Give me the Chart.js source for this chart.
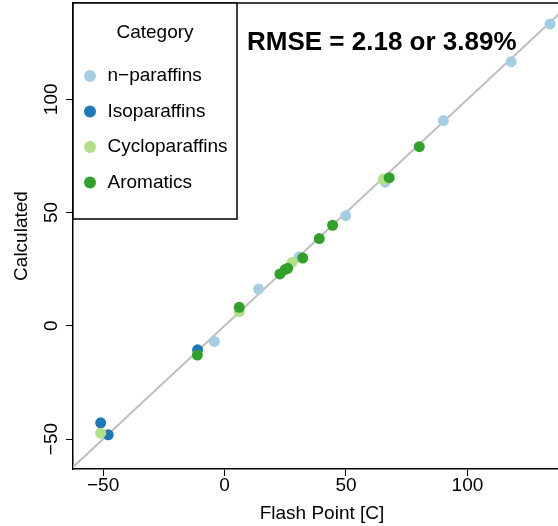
<!DOCTYPE html>
<html>
<head>
<meta charset="utf-8">
<script src="https://cdn.jsdelivr.net/npm/chart.js@4.4.0/dist/chart.umd.min.js"></script>
<style>
html, body { margin: 0; padding: 0; background: #fff; }
#wrap { width: 558px; height: 526px; }
</style>
</head>
<body>
<div id="wrap"><canvas id="flashChart" width="558" height="526"></canvas></div>
<script>
// categories and colours (RColorBrewer "Paired")
const categories = ['n\u2212paraffins', 'Isoparaffins', 'Cycloparaffins', 'Aromatics'];
const colors = ['#A6CEE3', '#1F78B4', '#B2DF8A', '#33A02C'];

// measured flash point (x) vs calculated (y)
const nParX = [-4.2, 14.0, 30.8, 49.9, 66.1, 90.1, 118.0, 134.0];
const nParY = [-6.9, 16.2, 30.5, 48.6, 63.4, 90.6, 116.6, 133.2];
const isoX = [-51.0, -47.9, -11.1];
const isoY = [-42.8, -48.1, -10.6];
const cycloX = [-51.0, 6.1, 27.9, 65.4];
const cycloY = [-47.4, 6.3, 28.1, 64.8];
const aromX = [-11.2, 6.05, 22.8, 25.0, 26.0, 32.2, 39.0, 44.5, 67.8, 80.2];
const aromY = [-12.9, 8.2, 22.9, 24.9, 25.4, 29.9, 38.5, 44.4, 65.4, 79.1];

// y = x reference line ends
const diagEnds = [-70, 160];

// axis ticks
const xTicks = [-50, 0, 50, 100];
const yTicks = [-50, 0, 50, 100];

const xTitle = 'Flash Point [C]';
const rmseText = 'RMSE = 2.18 or 3.89%';
const FONT = '"Liberation Sans", Arial, Helvetica, sans-serif';

const toPoints = (xs, ys) => xs.map((x, i) => ({ x: x, y: ys[i] }));
const minus = v => String(v).replace('-', '\u2212');

const seriesX = [nParX, isoX, cycloX, aromX];
const seriesY = [nParY, isoY, cycloY, aromY];

const datasets = categories.map((name, i) => ({
    label: name,
    data: toPoints(seriesX[i], seriesY[i]),
    backgroundColor: colors[i],
    borderWidth: 0,
    pointRadius: 5.5,
    pointHoverRadius: 5.5,
    order: 4 - i // aromatics on top
}));
datasets.push({
    label: 'diag',
    data: diagEnds.map(v => ({ x: v, y: v })),
    showLine: true,
    borderColor: '#BEBEBE',
    borderWidth: 2,
    pointRadius: 0,
    order: 10
});

// legend box, RMSE label, top frame line, x title and rotated y tick labels
const decorations = {
    id: 'decorations',
    afterDraw(chart) {
        const { ctx, chartArea } = chart;
        const yScale = chart.scales.y;
        ctx.save();

        // top frame line
        ctx.strokeStyle = '#000';
        ctx.lineWidth = 1.5;
        ctx.beginPath();
        ctx.moveTo(chartArea.left, chartArea.top);
        ctx.lineTo(chart.width, chartArea.top);
        ctx.stroke();

        // y tick labels, R style (reading upwards)
        ctx.fillStyle = '#000';
        ctx.font = '19px ' + FONT;
        ctx.textAlign = 'center';
        ctx.textBaseline = 'alphabetic';
        yTicks.forEach(v => {
            const py = yScale.getPixelForValue(v);
            ctx.save();
            ctx.translate(56.5, py);
            ctx.rotate(-Math.PI / 2);
            ctx.fillText(minus(v), 0, 0);
            ctx.restore();
        });

        // x axis title (original plot region runs past the right edge)
        ctx.fillText(xTitle, 322, 519);

        // legend
        const bx = chartArea.left, by = chartArea.top;
        const bw = 164, bh = 216;
        ctx.fillStyle = '#fff';
        ctx.fillRect(bx, by, bw, bh);
        ctx.strokeRect(bx, by, bw, bh);
        ctx.fillStyle = '#000';
        ctx.textBaseline = 'middle';
        ctx.textAlign = 'center';
        ctx.fillText('Category', bx + 82, 33);
        ctx.textAlign = 'left';
        categories.forEach((name, i) => {
            const cy = 76 + i * 35.5;
            ctx.fillStyle = colors[i];
            ctx.beginPath();
            ctx.arc(bx + 17, cy, 6, 0, Math.PI * 2);
            ctx.fill();
            ctx.fillStyle = '#000';
            ctx.fillText(name, bx + 34.5, cy);
        });

        // RMSE annotation
        ctx.font = 'bold 26px ' + FONT;
        ctx.textBaseline = 'alphabetic';
        ctx.fillText(rmseText, 247, 50);

        ctx.restore();
    }
};

Chart.defaults.font.family = FONT;
Chart.defaults.font.size = 19;
Chart.defaults.color = '#000';

const ctx = document.getElementById('flashChart').getContext('2d');
const flashChart = new Chart(ctx, {
    type: 'scatter',
    data: { datasets: datasets },
    options: {
        responsive: false,
        animation: false,
        layout: { autoPadding: false, padding: { top: 3, right: 0, left: 0, bottom: 0 } },
        plugins: {
            legend: { display: false },
            tooltip: { enabled: false }
        },
        scales: {
            x: {
                type: 'linear',
                min: -62.4,
                max: 137.3,
                afterFit: s => { s.height = 57; s.paddingLeft = 0; s.paddingRight = 0; },
                afterBuildTicks: s => { s.ticks = xTicks.map(v => ({ value: v })); },
                ticks: {
                    includeBounds: false,
                    maxRotation: 0,
                    padding: 0.5,
                    font: { size: 19, lineHeight: 1 },
                    callback: v => minus(v)
                },
                grid: { drawOnChartArea: false, drawTicks: true, tickLength: 7, color: '#000', lineWidth: 1 },
                border: { display: true, color: '#000', width: 1.5 },
                title: { display: false }
            },
            y: {
                type: 'linear',
                min: -63.2,
                max: 142.5,
                afterFit: s => { s.width = 73; s.paddingTop = 0; s.paddingBottom = 0; },
                afterBuildTicks: s => { s.ticks = yTicks.map(v => ({ value: v })); },
                ticks: { display: false, includeBounds: false },
                grid: { drawOnChartArea: false, drawTicks: true, tickLength: 7, color: '#000', lineWidth: 1 },
                border: { display: true, color: '#000', width: 1.5 },
                title: {
                    display: true,
                    text: 'Calculated',
                    font: { size: 19, lineHeight: 1 },
                    padding: { top: 12.5, bottom: 0 }
                }
            }
        }
    },
    plugins: [decorations]
});
</script>
</body>
</html>
